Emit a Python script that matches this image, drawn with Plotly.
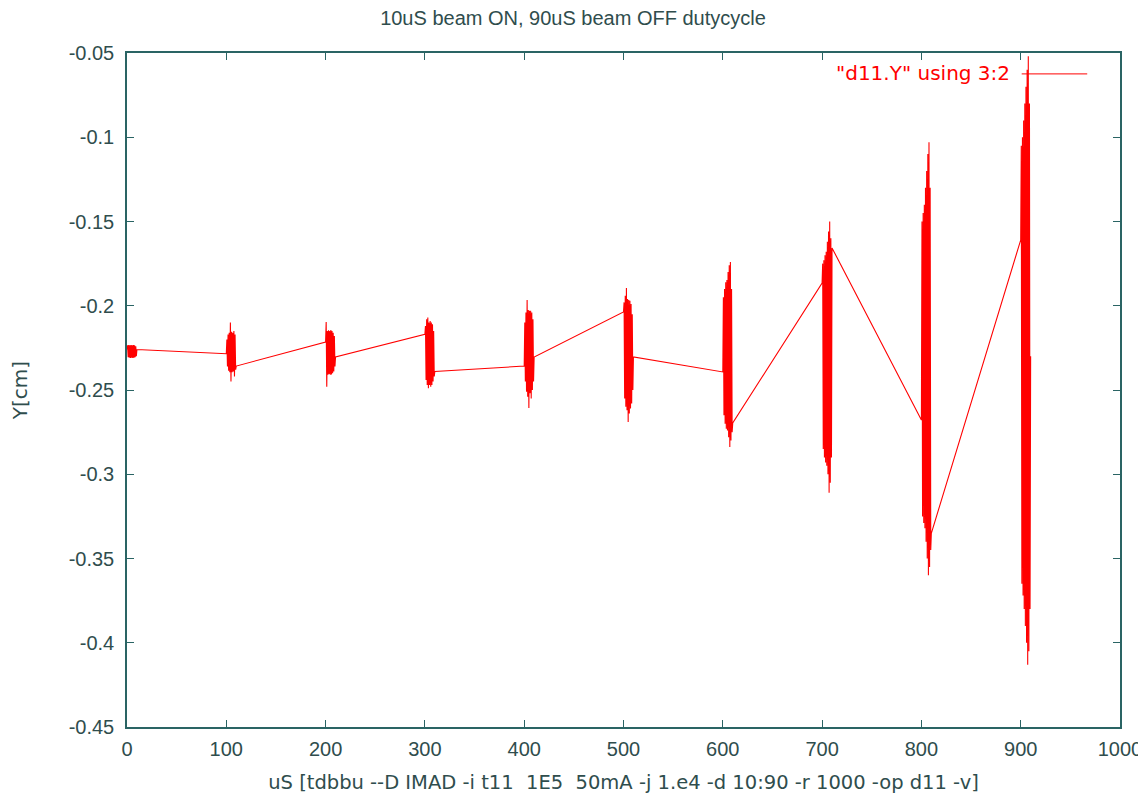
import plotly.graph_objects as go

# ---- data ----
BURST_STARTS = [0, 100, 200, 300, 400, 500, 600, 700, 800, 900]  # us
BURST_LENGTH_US = 10

burst_0 = [-0.2260, -0.2235, -0.2305, -0.2233, -0.2308, -0.2234, -0.2310, -0.2233, -0.2309,
           -0.2234, -0.2310, -0.2233, -0.2308, -0.2235, -0.2305, -0.2240, -0.2300, -0.2260]
burst_1 = [-0.2285, -0.2200, -0.2360, -0.2170, -0.2385, -0.2160, -0.2395, -0.2100, -0.2450,
           -0.2155, -0.2395, -0.2160, -0.2390, -0.2150, -0.2420, -0.2170, -0.2380, -0.2358]
burst_2 = [-0.2215, -0.2097, -0.2480, -0.2150, -0.2410, -0.2145, -0.2405, -0.2150, -0.2410,
           -0.2144, -0.2408, -0.2150, -0.2400, -0.2160, -0.2390, -0.2180, -0.2360, -0.2304]
burst_3 = [-0.2170, -0.2120, -0.2440, -0.2080, -0.2470, -0.2070, -0.2490, -0.2100, -0.2470,
           -0.2090, -0.2480, -0.2100, -0.2470, -0.2110, -0.2450, -0.2150, -0.2420, -0.2390]
burst_4 = [-0.2358, -0.2100, -0.2450, -0.2040, -0.2510, -0.1966, -0.2540, -0.2025, -0.2607,
           -0.2030, -0.2520, -0.2030, -0.2550, -0.2040, -0.2500, -0.2080, -0.2450, -0.2304]
burst_5 = [-0.2037, -0.1980, -0.2550, -0.1940, -0.2600, -0.1895, -0.2620, -0.1960, -0.2690,
           -0.1966, -0.2640, -0.1970, -0.2610, -0.1990, -0.2580, -0.2050, -0.2500, -0.2304]
burst_6 = [-0.2393, -0.1950, -0.2650, -0.1900, -0.2700, -0.1860, -0.2730, -0.1847, -0.2740,
           -0.1800, -0.2780, -0.1760, -0.2838, -0.1740, -0.2800, -0.1900, -0.2750, -0.2696]
burst_7 = [-0.1865, -0.1750, -0.2850, -0.1730, -0.2900, -0.1700, -0.2930, -0.1680, -0.2950,
           -0.1620, -0.3000, -0.1560, -0.3110, -0.1500, -0.3050, -0.1600, -0.2900, -0.1657]
burst_8 = [-0.2678, -0.1500, -0.3250, -0.1450, -0.3290, -0.1400, -0.3320, -0.1300, -0.3400,
           -0.1200, -0.3500, -0.1100, -0.3600, -0.1030, -0.3550, -0.1300, -0.3450, -0.3350]
burst_9 = [-0.1610, -0.1050, -0.3650, -0.1000, -0.3720, -0.0900, -0.3800, -0.0800, -0.3900,
           -0.0700, -0.4000, -0.0600, -0.4130, -0.0520, -0.4050, -0.0800, -0.3800, -0.2300]

BURSTS = [burst_0, burst_1, burst_2, burst_3, burst_4,
          burst_5, burst_6, burst_7, burst_8, burst_9]

X_TICKS = [0, 100, 200, 300, 400, 500, 600, 700, 800, 900, 1000]
Y_TICKS = [-0.45, -0.4, -0.35, -0.3, -0.25, -0.2, -0.15, -0.1, -0.05]
Y_TICK_LABELS = ["-0.45", "-0.4", "-0.35", "-0.3", "-0.25", "-0.2", "-0.15", "-0.1", "-0.05"]

TITLE = "10uS beam ON, 90uS beam OFF dutycycle"
X_LABEL = "uS [tdbbu --D IMAD -i t11\u00a0 1E5\u00a0 50mA -j 1.e4 -d 10:90 -r 1000 -op d11 -v]"
Y_LABEL = "Y[cm]"
SERIES_NAME = '"d11.Y" using 3:2'

# ---- build the series (time samples spread evenly across each 10 us burst) ----
xs, ys = [], []
for t0, vals in zip(BURST_STARTS, BURSTS):
    n = len(vals)
    for i, v in enumerate(vals):
        xs.append(t0 + BURST_LENGTH_US * i / (n - 1))
        ys.append(v)

RED = "#ff0000"
INK = "#2f4d4d"
AXIS = "#2a6464"
SANS = "Liberation Sans, Arial, sans-serif"
WIDE = "DejaVu Sans, Verdana, sans-serif"

fig = go.Figure()
fig.add_trace(go.Scatter(x=xs, y=ys, mode="lines", name=SERIES_NAME,
                         line=dict(color=RED, width=1.1), showlegend=False))

axis_common = dict(showline=True, linecolor=AXIS, linewidth=1.5, mirror="ticks",
                   ticks="inside", ticklen=7, tickcolor=AXIS, tickwidth=1.2,
                   showgrid=False, zeroline=False, automargin=False,
                   tickfont=dict(family=SANS, size=20, color=INK))

fig.update_layout(
    width=1146, height=796,
    margin=dict(l=119, r=34, t=45, b=77),
    paper_bgcolor="white", plot_bgcolor="white",
    title=dict(text=TITLE, x=(573 - 8) / 1146, xanchor="center", y=1 - 10 / 796, yanchor="middle",
               font=dict(family=SANS, size=20, color=INK)),
    xaxis=dict(range=[0, 1000], tickvals=X_TICKS, ticklabelstandoff=3,
               title=dict(text=X_LABEL, font=dict(family=WIDE, size=19.5, color=INK), standoff=17),
               **axis_common),
    yaxis=dict(range=[-0.45, -0.05], tickvals=Y_TICKS, ticktext=Y_TICK_LABELS,
               ticklabelstandoff=7,
               title=dict(text=Y_LABEL, font=dict(family=WIDE, size=20, color=INK), standoff=39),
               **axis_common),
)

# gnuplot-style key: text followed by the line sample, inside the top-right corner
fig.add_annotation(xref="paper", yref="paper", x=0.891, y=0.971, xanchor="right", yanchor="middle",
                   text=SERIES_NAME, showarrow=False,
                   font=dict(family=WIDE, size=20, color=RED))
fig.add_shape(type="line", xref="paper", yref="paper", x0=0.901, x1=0.967, y0=0.969, y1=0.969,
              line=dict(color=RED, width=1))

fig.write_html("out.html")
